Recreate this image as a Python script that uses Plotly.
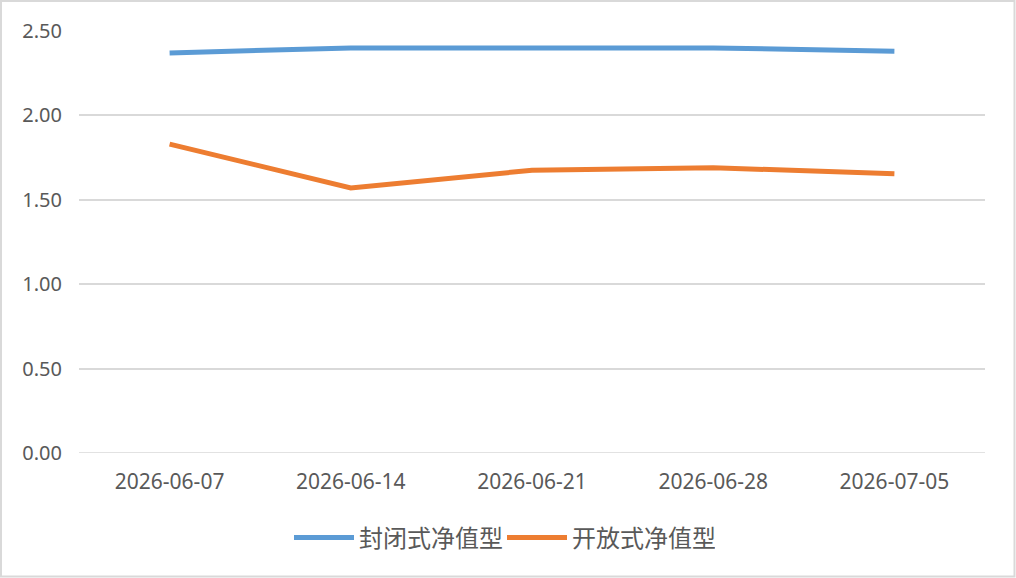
import plotly.graph_objects as go

dates = ["2026-06-07", "2026-06-14", "2026-06-21", "2026-06-28", "2026-07-05"]
closed_nav = [2.37, 2.40, 2.40, 2.40, 2.38]
open_nav = [1.83, 1.57, 1.675, 1.69, 1.655]
y_ticks = [0, 0.5, 1.0, 1.5, 2.0, 2.5]
y_tick_labels = ["0.00", "0.50", "1.00", "1.50", "2.00", "2.50"]

W, H = 1016, 578
L, R, T, B = 79, 31, 31, 125
pw, ph = W - L - R, H - T - B

font = "Noto Sans, Noto Sans CJK SC, sans-serif"
cjk = "Noto Sans CJK SC, sans-serif"

fig = go.Figure()
fig.add_trace(go.Scatter(x=dates, y=closed_nav, mode="lines", name="封闭式净值型",
                         line=dict(color="#5b9bd5", width=5)))
fig.add_trace(go.Scatter(x=dates, y=open_nav, mode="lines", name="开放式净值型",
                         line=dict(color="#ed7d31", width=5)))

fig.update_layout(
    width=W, height=H,
    margin=dict(l=L, r=R, t=T, b=B),
    paper_bgcolor="white", plot_bgcolor="white",
    font=dict(family=font, color="#595959", size=20),
    showlegend=True,
    legend=dict(orientation="h", x=0.5 - 30 / pw, xanchor="center", y=-(538 - T - ph) / ph,
                yanchor="middle", font=dict(family=cjk, size=24, color="#595959"),
                itemwidth=60, entrywidth=138, tracegroupgap=0),
    xaxis=dict(type="category", range=[-0.5, 4.5], showgrid=False, showline=False,
               zeroline=False, ticks="", tickfont=dict(size=21, color="#595959")),
    yaxis=dict(range=[0, 2.5], tickvals=y_ticks, ticktext=y_tick_labels,
               showgrid=True, gridcolor="#d9d9d9", gridwidth=1.5,
               zeroline=False, showline=False, ticks="",
               tickfont=dict(size=20, color="#595959")),
    shapes=[dict(type="rect", xref="paper", yref="paper",
                 x0=(1 - L) / pw, x1=(W - 1.5 - L) / pw,
                 y0=-(H - 1.5 - T - ph) / ph, y1=1 + (T - 1) / ph,
                 line=dict(color="#d9d9d9", width=2), layer="below")],
)
fig.add_shape(type="line", xref="paper", yref="y", x0=0, x1=1, y0=0, y1=0,
              line=dict(color="#d9d9d9", width=1.5), layer="below")
fig.update_xaxes(ticklabelstandoff=14)
fig.update_yaxes(ticklabelstandoff=16)

fig.write_html("out.html")
